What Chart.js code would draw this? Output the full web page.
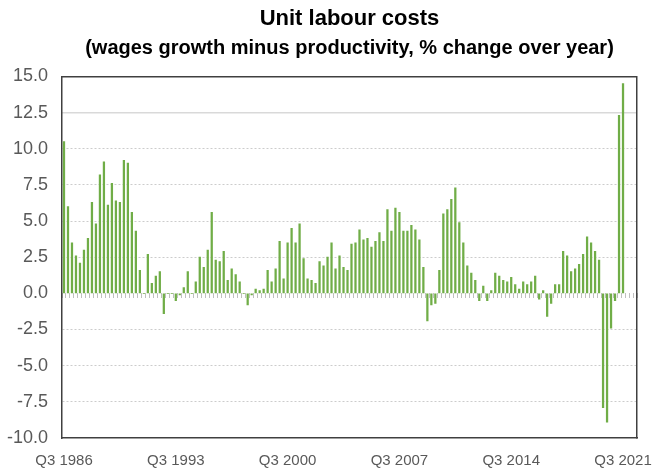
<!DOCTYPE html>
<html lang="en">

<head>
    <meta charset="UTF-8">
    <meta name="viewport" content="width=device-width, initial-scale=1.0">
    <title>Unit labour costs</title>
    <script src="https://cdn.jsdelivr.net/npm/chart.js"></script>
    <style>
        html, body {
            margin: 0;
            padding: 0;
            background: #ffffff;
        }

        .chart-container {
            width: 662px;
            height: 471px;
        }
    </style>
</head>

<body>
    <div class="chart-container">
        <canvas id="ulcChart" width="662" height="471"></canvas>
    </div>

    <script>
        // quarterly series, first quarter is Q3 1986
        const startYear = 1986;
        const startQuarter = 3;
        const quarterCount = 144; // axis runs a few quarters past the last value

        const tickLabels = ['Q3 1986', 'Q3 1993', 'Q3 2000', 'Q3 2007', 'Q3 2014', 'Q3 2021'];

        // % change over year
        const unitLabourCosts = [
            10.5, 6.0, 3.5, 2.6, 2.1, 3.0, 3.8, 6.3, 4.8, 8.2,
            9.1, 6.1, 7.6, 6.4, 6.3, 9.2, 9.0, 5.6, 4.3, 1.6,
            0.0, 2.7, 0.7, 1.2, 1.5, -1.4, 0.0, 0.0, -0.5, -0.1,
            0.4, 1.5, 0.0, 0.8, 2.5, 1.8, 3.0, 5.6, 2.3, 2.2,
            2.9, 0.9, 1.7, 1.3, 0.8, 0.0, -0.8, -0.1, 0.3, 0.2,
            0.3, 1.6, 0.8, 1.7, 3.6, 1.0, 3.5, 4.5, 3.5, 4.8,
            2.4, 1.0, 0.9, 0.7, 2.2, 1.9, 2.5, 3.5, 1.7, 2.6,
            1.8, 1.6, 3.4, 3.5, 4.4, 3.7, 3.8, 3.2, 3.6, 4.2,
            3.6, 5.8, 4.3, 5.9, 5.6, 4.3, 4.3, 4.7, 4.4, 3.7,
            1.8, -1.9, -0.8, -0.7, 1.6, 5.5, 5.8, 6.5, 7.3, 4.9,
            3.5, 1.9, 1.4, 0.9, -0.5, 0.5, -0.5, 0.2, 1.4, 1.2,
            0.9, 0.8, 1.1, 0.6, 0.3, 0.8, 0.6, 0.8, 1.2, -0.4,
            0.2, -1.6, -0.7, 0.6, 0.6, 2.9, 2.6, 1.5, 1.7, 2.0,
            2.7, 3.9, 3.5, 2.9, 2.3, -7.9, -8.9, -2.4, -0.5, 12.3,
            14.5
        ];

        const quarters = [];
        for (let i = 0; i < quarterCount; i++) {
            const q = (startQuarter - 1 + i) % 4 + 1;
            const y = startYear + Math.floor((startQuarter - 1 + i) / 4);
            quarters.push('Q' + q + ' ' + y);
        }

        const FONT = "'Liberation Sans', Arial, sans-serif";
        const axisDark = '#404040';
        const labelGrey = '#595959';

        const ctx = document.getElementById('ulcChart').getContext('2d');

        const config = {
            type: 'bar',
            data: {
                labels: quarters,
                datasets: [{
                    label: 'Unit labour costs',
                    data: unitLabourCosts,
                    backgroundColor: '#70ad47',
                    borderWidth: 0,
                    barThickness: 1.6,
                    xAxisID: 'x',
                    yAxisID: 'y'
                }]
            },
            options: {
                responsive: false,
                animation: false,
                layout: { padding: 0 },
                plugins: {
                    legend: { display: false },
                    tooltip: { enabled: false },
                    title: {
                        display: true,
                        fullSize: false,
                        text: 'Unit labour costs',
                        color: '#000000',
                        font: { family: FONT, size: 22, weight: 'bold' },
                        padding: { top: 6, bottom: 0 }
                    },
                    subtitle: {
                        display: true,
                        fullSize: false,
                        text: '(wages growth minus productivity, % change over year)',
                        color: '#000000',
                        font: { family: FONT, size: 20, weight: 'bold' },
                        padding: { top: 4, bottom: 16 }
                    }
                },
                scales: {
                    x: {
                        type: 'category',
                        position: 'bottom',
                        grid: {
                            drawOnChartArea: false,
                            drawTicks: false
                        },
                        border: { color: axisDark, width: 1.5 },
                        ticks: {
                            autoSkip: false,
                            maxRotation: 0,
                            minRotation: 0,
                            padding: 14,
                            color: labelGrey,
                            font: { family: FONT, size: 15 },
                            callback: function (value, index) {
                                const lab = this.getLabelForValue(value);
                                return tickLabels.includes(lab) ? lab : '';
                            }
                        },
                        afterFit: (scale) => { scale.height = 33; }
                    },
                    // tick marks along the zero line
                    xZero: {
                        type: 'category',
                        axis: 'x',
                        position: { y: 0 },
                        grid: {
                            drawOnChartArea: false,
                            drawTicks: true,
                            tickLength: 5,
                            color: '#bfbfbf',
                            lineWidth: 1
                        },
                        border: { display: false },
                        ticks: { display: false }
                    },
                    y: {
                        position: 'left',
                        min: -10,
                        max: 15,
                        ticks: {
                            stepSize: 2.5,
                            padding: 14,
                            color: labelGrey,
                            font: { family: FONT, size: 18 },
                            callback: (v) => v.toFixed(1)
                        },
                        grid: {
                            drawTicks: false,
                            lineWidth: 1,
                            color: (c) => [15, 12.5, 0, -10].includes(c.tick.value) ? 'rgba(0,0,0,0)' : '#cccccc'
                        },
                        border: { color: axisDark, width: 1.5, dash: [2, 2] },
                        afterFit: (scale) => { scale.width = 62; }
                    },
                    // right frame, top frame and the solid 12.5 line
                    yFrame: {
                        position: 'right',
                        min: -10,
                        max: 15,
                        afterBuildTicks: (scale) => {
                            scale.ticks = [{ value: 12.5 }, { value: 15 }];
                        },
                        ticks: { display: false },
                        grid: {
                            drawTicks: false,
                            lineWidth: 1.5,
                            color: (c) => c.tick.value === 15 ? axisDark : '#d9d9d9'
                        },
                        border: { color: axisDark, width: 1.5 },
                        afterFit: (scale) => { scale.width = 25; }
                    }
                }
            }
        };

        const ulcChart = new Chart(ctx, config);
    </script>

</body>

</html>
